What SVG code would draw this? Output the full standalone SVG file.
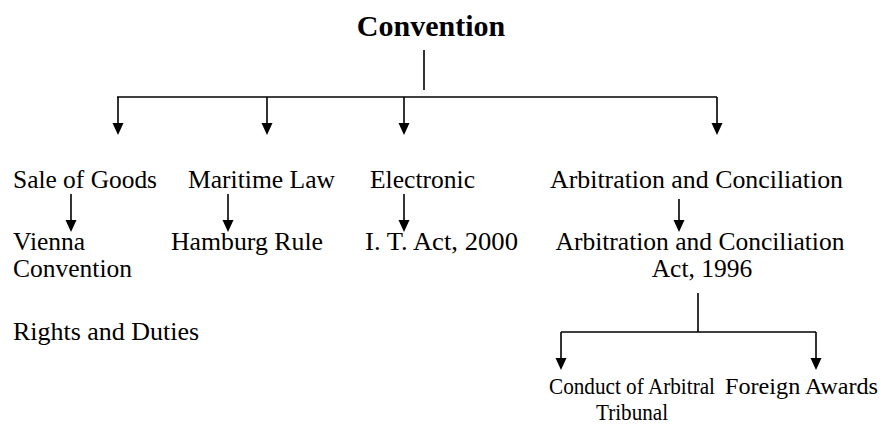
<svg xmlns="http://www.w3.org/2000/svg" width="893" height="432" viewBox="0 0 893 432">
  <defs>
    <marker id="arrow" viewBox="0 0 12 12" refX="10" refY="6" markerWidth="12" markerHeight="12" markerUnits="userSpaceOnUse" orient="auto">
      <path d="M0,0.5 L12,6 L0,11.5 z" fill="#000"/>
    </marker>
  </defs>
  <style>
    text { font-family: "Liberation Serif", "Times New Roman", serif; font-size: 25.5px; fill: #000; }
    .title { font-weight: bold; font-size: 30px; }
    .mid { text-anchor: middle; }
    .small { font-size: 24px; }
    .wire { fill: none; stroke: #000; stroke-width: 1.6; }
    .arr { marker-end: url(#arrow); }
  </style>
  <rect width="893" height="432" fill="#fff"/>

  <!-- connectors -->
  <g id="connectors">
    <line class="wire" x1="424" y1="50" x2="424" y2="90"/>
    <line class="wire" x1="117" y1="97" x2="717" y2="97"/>
    <line class="wire arr" x1="118" y1="97" x2="118" y2="133"/>
    <line class="wire arr" x1="267" y1="97" x2="267" y2="133"/>
    <line class="wire arr" x1="404" y1="97" x2="404" y2="133"/>
    <line class="wire arr" x1="717" y1="97" x2="717" y2="133"/>

    <line class="wire arr" x1="71" y1="194" x2="71" y2="230"/>
    <line class="wire arr" x1="228" y1="194" x2="228" y2="230"/>
    <line class="wire arr" x1="404" y1="194" x2="404" y2="230"/>
    <line class="wire arr" x1="679" y1="199" x2="679" y2="230"/>

    <line class="wire" x1="698" y1="293" x2="698" y2="332"/>
    <line class="wire" x1="561" y1="332" x2="816" y2="332"/>
    <line class="wire arr" x1="561" y1="332" x2="561" y2="368"/>
    <line class="wire arr" x1="816" y1="332" x2="816" y2="368"/>
  </g>

  <g id="convention"><text class="title mid" x="431" y="36">Convention</text></g>

  <g id="sale-of-goods"><text x="13" y="188" textLength="144" lengthAdjust="spacingAndGlyphs">Sale of Goods</text></g>
  <g id="maritime-law"><text x="188" y="188" textLength="147" lengthAdjust="spacingAndGlyphs">Maritime Law</text></g>
  <g id="electronic"><text x="370" y="188" textLength="105" lengthAdjust="spacingAndGlyphs">Electronic</text></g>
  <g id="arbitration"><text x="550" y="188" textLength="293" lengthAdjust="spacingAndGlyphs">Arbitration and Conciliation</text></g>

  <g id="vienna-convention">
    <text x="13" y="250">Vienna</text>
    <text x="13" y="277">Convention</text>
  </g>
  <g id="hamburg-rule"><text x="171" y="250" textLength="152" lengthAdjust="spacingAndGlyphs">Hamburg Rule</text></g>
  <g id="it-act"><text x="365" y="250" textLength="153" lengthAdjust="spacingAndGlyphs">I. T. Act, 2000</text></g>
  <g id="arbitration-act">
    <text class="mid" x="700" y="250">Arbitration and Conciliation</text>
    <text class="mid" x="702" y="277">Act, 1996</text>
  </g>

  <g id="rights-and-duties"><text x="13" y="340" textLength="186" lengthAdjust="spacingAndGlyphs">Rights and Duties</text></g>

  <g id="conduct">
    <text class="small" x="549" y="394" textLength="166" lengthAdjust="spacingAndGlyphs">Conduct of Arbitral</text>
    <text class="small mid" x="632" y="420" textLength="72" lengthAdjust="spacingAndGlyphs">Tribunal</text>
  </g>
  <g id="foreign-awards"><text class="small" x="725" y="394" textLength="153" lengthAdjust="spacingAndGlyphs">Foreign Awards</text></g>
</svg>
